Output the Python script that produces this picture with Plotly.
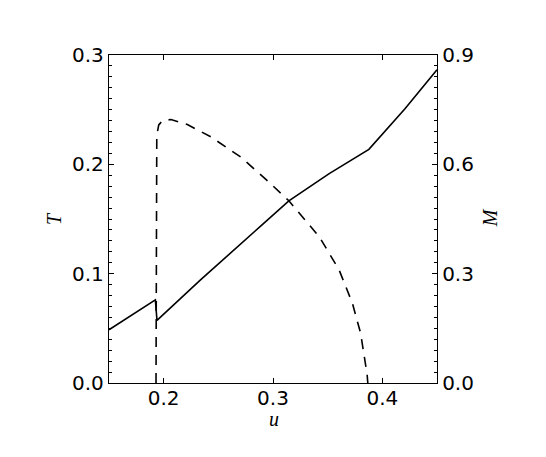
import plotly.graph_objects as go

# T(u), solid line, left axis
u_t = [0.150, 0.1924, 0.1939, 0.2337, 0.2897, 0.3145, 0.3514, 0.3877, 0.4207, 0.450]
t_vals = [0.0487, 0.0760, 0.0572, 0.0943, 0.1444, 0.1666, 0.1915, 0.2137, 0.2508, 0.2865]

# M(u), dashed line, right axis
u_m = [0.1930, 0.1932, 0.1937, 0.1955, 0.1990, 0.2067, 0.2217, 0.2434, 0.2705,
       0.2945, 0.3145, 0.3424, 0.3605, 0.3726, 0.3801, 0.3861, 0.3867]
m_vals = [0.000, 0.600, 0.680, 0.708, 0.720, 0.723, 0.709, 0.675, 0.620,
          0.556, 0.500, 0.401, 0.310, 0.219, 0.137, 0.023, 0.000]

x_ticks = [0.2, 0.3, 0.4]
t_ticks = [0.0, 0.1, 0.2, 0.3]
m_ticks = [0.0, 0.3, 0.6, 0.9]

TICK_FONT = dict(family="DejaVu Sans", size=20, color="black")
MATH_FONT = dict(family="Liberation Serif", size=20, color="black", style="italic")

fig = go.Figure()
fig.add_trace(go.Scatter(x=u_t, y=t_vals, mode="lines",
                         line=dict(color="black", width=1.6), yaxis="y"))
fig.add_trace(go.Scatter(x=u_m, y=m_vals, mode="lines",
                         line=dict(color="black", width=1.6, dash="10px,8px"), yaxis="y2"))

axis_common = dict(showline=True, linecolor="black", linewidth=1.3, showgrid=False,
                   zeroline=False, ticks="inside", ticklen=5, tickcolor="black",
                   tickfont=TICK_FONT, tickformat=".1f")

# the page body adds an 8px offset, so left/top margins are trimmed by 8px
fig.update_layout(
    width=546, height=457,
    margin=dict(l=101, r=117, t=47, b=82),
    paper_bgcolor="white", plot_bgcolor="white",
    showlegend=False,
    xaxis=dict(range=[0.15, 0.45], tickvals=x_ticks, mirror="ticks",
               ticklabelstandoff=-3, **axis_common),
    yaxis=dict(range=[0, 0.3], tickvals=t_ticks,
               minor=dict(dtick=0.01, ticks="inside", ticklen=3, tickcolor="black"),
               **axis_common),
    yaxis2=dict(range=[0, 0.9], tickvals=m_ticks, overlaying="y", side="right",
                minor=dict(dtick=0.03, ticks="inside", ticklen=3, tickcolor="black"),
                **axis_common),
    annotations=[
        dict(text="T", x=-0.168, y=0.503, xref="paper", yref="paper", showarrow=False,
             textangle=-90, font=MATH_FONT, xanchor="center", yanchor="middle"),
        dict(text="M", x=1.162, y=0.503, xref="paper", yref="paper", showarrow=False,
             textangle=-90, font=MATH_FONT, xanchor="center", yanchor="middle"),
        dict(text="u", x=0.503, y=-0.11, xref="paper", yref="paper", showarrow=False,
             font=MATH_FONT, xanchor="center", yanchor="middle"),
    ],
)

fig.write_html("out.html")
